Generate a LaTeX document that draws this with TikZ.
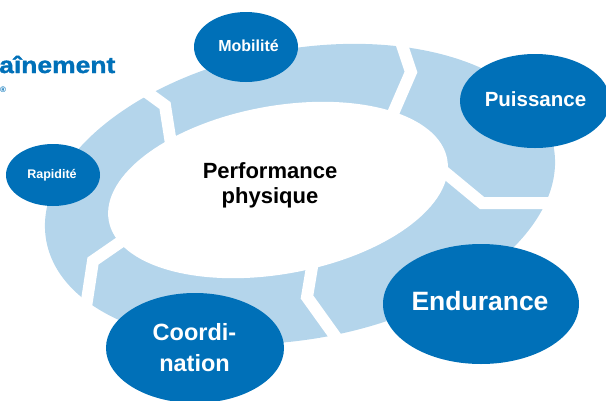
\documentclass[tikz,border=0pt]{standalone}
\usepackage{fontspec}
\setmainfont{Liberation Sans}
\newfontfamily\widefont[FakeStretch=1.15,FakeBold=1.5]{Liberation Sans}
\usetikzlibrary{shapes.geometric}
\definecolor{ringblue}{HTML}{B4D5EB}
\definecolor{darkblue}{HTML}{0070B8}
\begin{document}
\begin{tikzpicture}[x=1pt,y=-1pt,
  gapline/.style={draw=white, line width=12pt, line join=miter, line cap=butt},
  pill/.style={ellipse, fill=darkblue, draw=none, inner sep=0pt},
  lbl/.style={text=white, inner sep=0pt, anchor=base},
]
\useasboundingbox (0,0) rectangle (606,400);
% ring
\fill[ringblue, rotate around={10.5:(300,194)}] (300,194) ellipse [x radius=258, y radius=145];
\fill[white, rotate around={10.3:(278,190)}] (278,190) ellipse [x radius=172, y radius=84];
% chevron gaps
\path[gapline] (130,80) -- (165,105.5) -- (172,150);
\path[gapline] (397,30) -- (411,72) -- (388,125);
\path[gapline] (430,160) -- (482,203) -- (565,203);
\path[gapline] (314,255) -- (307,297) -- (345,350);
\path[gapline] (135,232) -- (93,261) -- (84,320);
% blue ellipses
\node[pill, minimum width=104pt, minimum height=70pt] (mob) at (246,47) {};
\node[pill, minimum width=94pt, minimum height=62pt] (rap) at (53,175) {};
\node[pill, minimum width=150pt, minimum height=94pt] (pui) at (535,101) {};
\node[pill, minimum width=196pt, minimum height=120pt] (end) at (481,304) {};
\node[pill, minimum width=178pt, minimum height=110pt] (coo) at (195,348) {};
% labels
\node[lbl, font=\fontsize{16}{19}\selectfont\bfseries] (tmob) at (248.5,51) {Mobilité};
\node[lbl, font=\fontsize{12.5}{15}\selectfont\bfseries] (trap) at (52,178) {Rapidité};
\node[lbl, font=\fontsize{20.5}{24}\selectfont\bfseries] (tpui) at (535.5,106) {Puissance};
\node[lbl, font=\fontsize{26.5}{30}\selectfont\bfseries] (tend) at (480,310.5) {Endurance};
\node[text=white, inner sep=0pt, align=center, font=\fontsize{23.5}{31}\selectfont\bfseries] (tcoo) at (194.5,348) {Coordi-\\nation};
\node[text=black, inner sep=0pt, align=center, font=\fontsize{22}{25}\selectfont\bfseries] (perf) at (270,185) {Performance\\physique};
% top-left brand text
\node[text=darkblue, inner sep=0pt, anchor=base west, font=\fontsize{23}{26}\selectfont\widefont\bfseries] (brand) at (-1,73) {aînement};
\node[text=darkblue, inner sep=0pt, font=\fontsize{8}{9}\selectfont\bfseries] (reg) at (3,90) {®};
\end{tikzpicture}
\end{document}
